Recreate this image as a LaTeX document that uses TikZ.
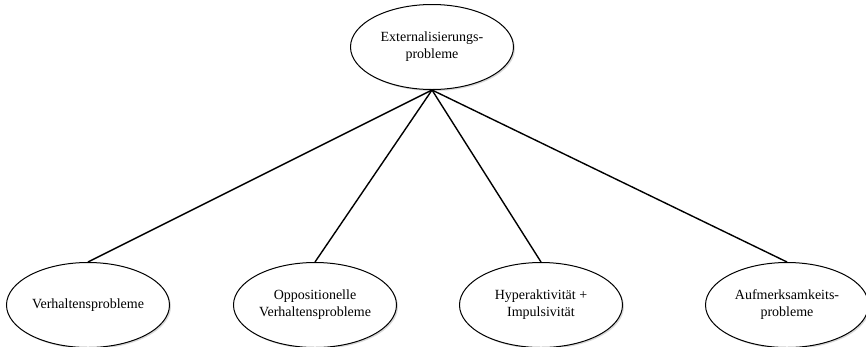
\documentclass[tikz,border=0pt]{standalone}
\usepackage{fontspec}
\setmainfont{Liberation Serif}
\usetikzlibrary{shapes.geometric, shadows}

\begin{document}
\begin{tikzpicture}[x=1pt, y=1pt,
    problem/.style={ellipse, draw, line width=1pt, fill=white, minimum width=163pt, minimum height=85pt,
      inner sep=0pt, drop shadow={shadow xshift=1.5pt, shadow yshift=-1.5pt, fill=black!30}},
    txt/.style={align=center, font=\fontsize{14}{17}\selectfont}]
  \useasboundingbox (0,0) rectangle (866,-346);

  % top node
  \node[problem, label={[txt]center:Externalisierungs-\\probleme}] (ext) at (432,-47) {};

  % bottom row
  \node[problem, label={[txt]center:Verhaltensprobleme}] (verh) at (88,-305) {};
  \node[problem, label={[txt]center:Oppositionelle\\Verhaltensprobleme}] (opp) at (315,-305) {};
  \node[problem, label={[txt]center:Hyperaktivität +\\Impulsivität}] (hyp) at (541,-305) {};
  \node[problem, label={[txt]center:Aufmerksamkeits-\\probleme}] (aufm) at (787,-305) {};

  % connectors
  \foreach \n in {verh, opp, hyp, aufm} {
    \draw[line width=1.4pt] (ext.south) -- (\n.north);
  }
\end{tikzpicture}
\end{document}
